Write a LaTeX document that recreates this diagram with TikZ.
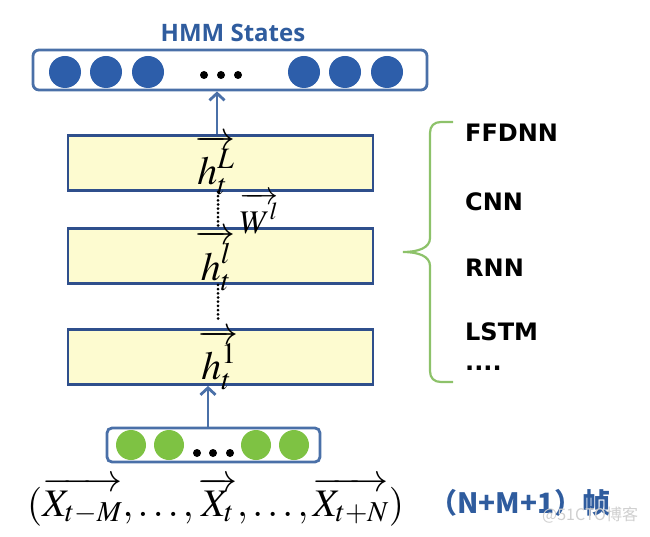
\documentclass[tikz,border=0pt]{standalone}
\usepackage{mathptmx}
\usepackage[no-math]{fontspec}
\setmainfont{Open Sans}
\newfontfamily\cjkfont{Noto Sans CJK SC}
\newfontfamily\wideb{DejaVu Sans}
\usetikzlibrary{arrows.meta,calc}
\definecolor{frameblue}{HTML}{4A70A8}
\definecolor{darkframe}{HTML}{2F4F8C}
\definecolor{dotblue}{HTML}{2D5EAA}
\definecolor{dotgreen}{HTML}{7EC243}
\definecolor{boxyellow}{HTML}{FDFBD0}
\definecolor{txtblue}{HTML}{2F5C9E}
\definecolor{bracegreen}{HTML}{8DC26A}
\definecolor{wmgray}{HTML}{CFCFCF}
\tikzset{
  bcirc/.style={circle,fill=dotblue,minimum size=32pt,inner sep=0pt},
  gcirc/.style={circle,fill=dotgreen,minimum size=30pt,inner sep=0pt},
  kdot/.style={circle,fill=black,minimum size=8pt,inner sep=0pt},
  roundbox/.style={draw=frameblue,line width=2.8pt,rounded corners=6pt,fill=white,inner sep=0pt},
  ybox/.style={draw=darkframe,line width=2.8pt,fill=boxyellow,minimum width=305pt,minimum height=55pt,inner sep=0pt},
  upar/.style={draw=frameblue,line width=2.8pt,-{Straight Barb[length=7pt,width=15pt,line width=2.8pt]}},
  dotline/.style={line width=3pt,line cap=round,dash pattern=on 0pt off 4.2pt,black},
  lbl/.style={font=\wideb\bfseries\fontsize{24}{28}\selectfont,anchor=west,inner sep=0pt},
  hl/.style={inner sep=0pt,font=\fontsize{40}{44}\selectfont}
}
\begin{document}
\begin{tikzpicture}[x=1pt,y=-1pt]
\useasboundingbox (0,0) rectangle (650,537);
% title
\node[font=\bfseries\fontsize{24}{28}\selectfont,text=txtblue,inner sep=0pt] (title) at (233,33) {HMM States};
% top box
\node[roundbox,minimum width=394pt,minimum height=40pt] (top) at (230,70) {};
\node[bcirc] (b1) at (65,72) {};
\node[bcirc] (b2) at (106,72) {};
\node[bcirc] (b3) at (148,72) {};
\node[bcirc] (b4) at (304,72) {};
\node[bcirc] (b5) at (345,72) {};
\node[bcirc] (b6) at (387,72) {};
\node[kdot] (d1) at (204,75) {};
\node[kdot] (d2) at (221,75) {};
\node[kdot] (d3) at (238,75) {};
% layer boxes
\node[ybox] (L) at (220.5,163) {};
\node[ybox] (l) at (220.5,256) {};
\node[ybox] (one) at (220.5,357) {};
% input box
\node[roundbox,minimum width=213pt,minimum height=34pt,rounded corners=5pt] (in) at (213.5,445) {};
\node[gcirc] (g1) at (131,445) {};
\node[gcirc] (g2) at (169,445) {};
\node[gcirc] (g3) at (256,445) {};
\node[gcirc] (g4) at (294,445) {};
\node[kdot] (e1) at (197,453) {};
\node[kdot] (e2) at (213,453) {};
\node[kdot] (e3) at (230,453) {};
% arrows
\coordinate (ta) at ([xshift=-3.5pt]L.north);
\draw[upar] (ta) -- (ta |- top.south);
\coordinate (ia) at ([xshift=-5.5pt]in.north);
\draw[upar] (ia) -- (ia |- one.south);
% dotted connectors
\coordinate (lx) at ([xshift=-2.5pt]L.south);
\coordinate (dd) at (218,320);
\draw[dotline] (lx) -- (lx |- l.north);
\draw[dotline] (lx |- l.south) -- (dd);
% labels
\node[hl] (hL) at (216,165) {$\overrightarrow{h_t^L}$};
\node[hl] (hl) at (216,260) {$\overrightarrow{h_t^l}$};
\node[hl] (h1) at (219,360) {$\overrightarrow{h_t^1}$};
\node[inner sep=0pt,font=\fontsize{33}{36}\selectfont] (W) at (259,213) {$\overrightarrow{W^l}$};
% brace
\draw[bracegreen,line width=2.2pt] (453,122) -- (441,122) .. controls (434,122) and (430,126) .. (430,133) -- (430,238)
  .. controls (430,248) and (418,252) .. (403,252) .. controls (418,252) and (430,256) .. (430,266) -- (430,371)
  .. controls (430,378) and (434,382) .. (441,382) -- (453,382);
\node[lbl] (f1) at (465,133) {FFDNN};
\node[lbl] (f2) at (465,202) {CNN};
\node[lbl] (f3) at (465,268) {RNN};
\node[lbl] (f4) at (465,332) {LSTM};
\node[lbl] (f5) at (465,368) {....};
% formula
\node[inner sep=0pt,anchor=base west,font=\fontsize{39}{43}\selectfont] (fx) at (27,516) {$(\overrightarrow{X_{t-M}},\ldots,\overrightarrow{X_t},\ldots,\overrightarrow{X_{t+N}})$};
\node[inner sep=0pt,anchor=west,text=txtblue,font=\cjkfont\bfseries\fontsize{28}{32}\selectfont] (nm) at (429,503) {（N+M+1）帧};
\node[inner sep=0pt,anchor=west,text=wmgray,font=\cjkfont\fontsize{16}{18}\selectfont] (wm) at (542,515) {@51CTO博客};
\end{tikzpicture}
\end{document}
